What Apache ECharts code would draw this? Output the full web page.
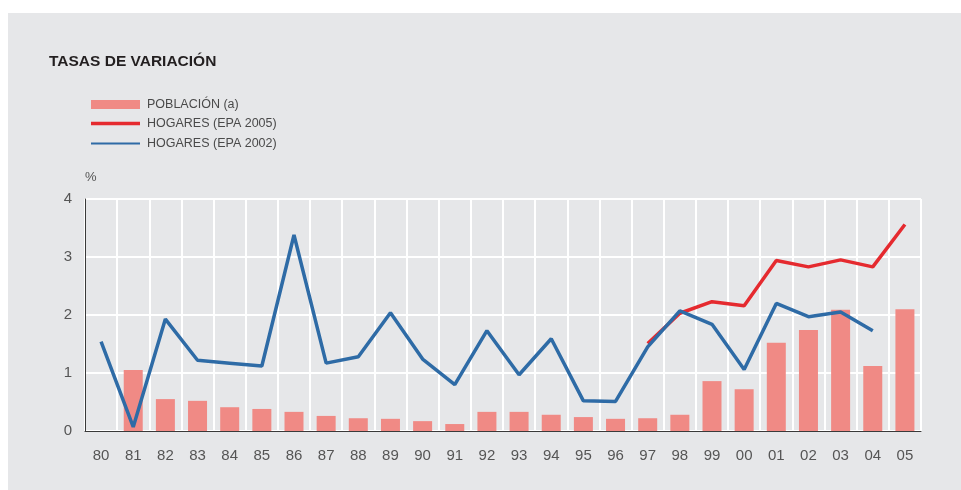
<!DOCTYPE html>
<html>
<head>
<meta charset="utf-8">
<script src="https://cdn.jsdelivr.net/npm/echarts@6/dist/echarts.min.js"></script>
<style>
  html, body { margin: 0; padding: 0; background: #ffffff; }
  #panel { position: absolute; left: 8px; top: 13px; right: 0; bottom: 0; background: #e6e7e9; }
  #chart { position: absolute; left: 0; top: 0; width: 961px; height: 490px; }
</style>
</head>
<body>
<div id="panel"></div>
<div id="chart"></div>
<script>
// años (eje x)
const years = ['80', '81', '82', '83', '84', '85', '86', '87', '88', '89', '90', '91', '92',
  '93', '94', '95', '96', '97', '98', '99', '00', '01', '02', '03', '04', '05']
// población (a)
const poblacion = [null, 1.05, 0.55, 0.52, 0.41, 0.38, 0.33, 0.26, 0.22, 0.21, 0.17, 0.12, 0.33,
  0.33, 0.28, 0.24, 0.21, 0.22, 0.28, 0.86, 0.72, 1.52, 1.74, 2.09, 1.12, 2.10]
// hogares EPA 2005
const hogares2005 = [null, null, null, null, null, null, null, null, null, null, null, null, null,
  null, null, null, null, 1.51, 2.03, 2.23, 2.16, 2.94, 2.83, 2.95, 2.83, 3.56]
// hogares EPA 2002
const hogares2002 = [1.54, 0.07, 1.93, 1.22, 1.17, 1.12, 3.38, 1.17, 1.28, 2.04, 1.24, 0.80, 1.73,
  0.97, 1.59, 0.52, 0.51, 1.45, 2.07, 1.84, 1.06, 2.20, 1.97, 2.05, 1.73, null]
const yTicks = [0, 1, 2, 3, 4]

const font = "'Liberation Sans', Arial, sans-serif"
const colorBar = '#f08a85'
const colorRed = '#e52a2f'
const colorBlue = '#2e6ba6'

const chart = echarts.init(document.getElementById('chart'))

// una leyenda por fila, para poder dar a cada icono su propio grosor
function legendRow(name, top, height, color) {
  return {
    data: [{ name: name, icon: 'rect', itemStyle: { color: color } }],
    left: 91,
    top: top,
    padding: 0,
    itemWidth: 49,
    itemHeight: height,
    textStyle: { fontFamily: font, fontSize: 12.5, color: '#4a4a4a', padding: [0, 0, 0, 2] }
  }
}

const option = {
  backgroundColor: 'transparent',
  animation: false,
  textStyle: { fontFamily: font },
  title: {
    text: 'TASAS DE VARIACIÓN',
    left: 44,
    top: 49,
    textStyle: { fontFamily: font, fontSize: 15.5, fontWeight: 'bold', color: '#231f20' }
  },
  legend: [
    legendRow('POBLACIÓN (a)', 98, 9, colorBar),
    legendRow('HOGARES (EPA 2005)', 117, 3.5, colorRed),
    legendRow('HOGARES (EPA 2002)', 137, 2, colorBlue)
  ],
  grid: { left: 85, right: 40, top: 199, bottom: 59 },
  xAxis: {
    type: 'category',
    data: years,
    boundaryGap: true,
    axisLine: { lineStyle: { color: '#3a3a3a', width: 1 } },
    axisTick: { show: false },
    axisLabel: { fontSize: 15, color: '#555555', margin: 17, fontFamily: font },
    splitLine: { show: true, lineStyle: { color: '#ffffff', width: 2 } }
  },
  yAxis: {
    type: 'value',
    min: yTicks[0],
    max: yTicks[yTicks.length - 1],
    interval: 1,
    name: '%',
    nameGap: 15,
    nameTextStyle: { fontSize: 13, color: '#555555', align: 'left', fontFamily: font },
    axisLine: { show: true, lineStyle: { color: '#3a3a3a', width: 1 } },
    axisTick: { show: false },
    axisLabel: { fontSize: 15, color: '#555555', margin: 13, fontFamily: font },
    splitLine: { show: true, lineStyle: { color: '#ffffff', width: 2 } }
  },
  series: [
    {
      name: 'POBLACIÓN (a)',
      type: 'bar',
      data: poblacion,
      barWidth: 19,
      itemStyle: { color: colorBar }
    },
    {
      name: 'HOGARES (EPA 2005)',
      type: 'line',
      data: hogares2005,
      symbol: 'none',
      lineStyle: { color: colorRed, width: 3.5 },
      itemStyle: { color: colorRed }
    },
    {
      name: 'HOGARES (EPA 2002)',
      type: 'line',
      data: hogares2002,
      symbol: 'none',
      lineStyle: { color: colorBlue, width: 3.5 },
      itemStyle: { color: colorBlue }
    }
  ]
}
chart.setOption(option)
</script>
</body>
</html>
